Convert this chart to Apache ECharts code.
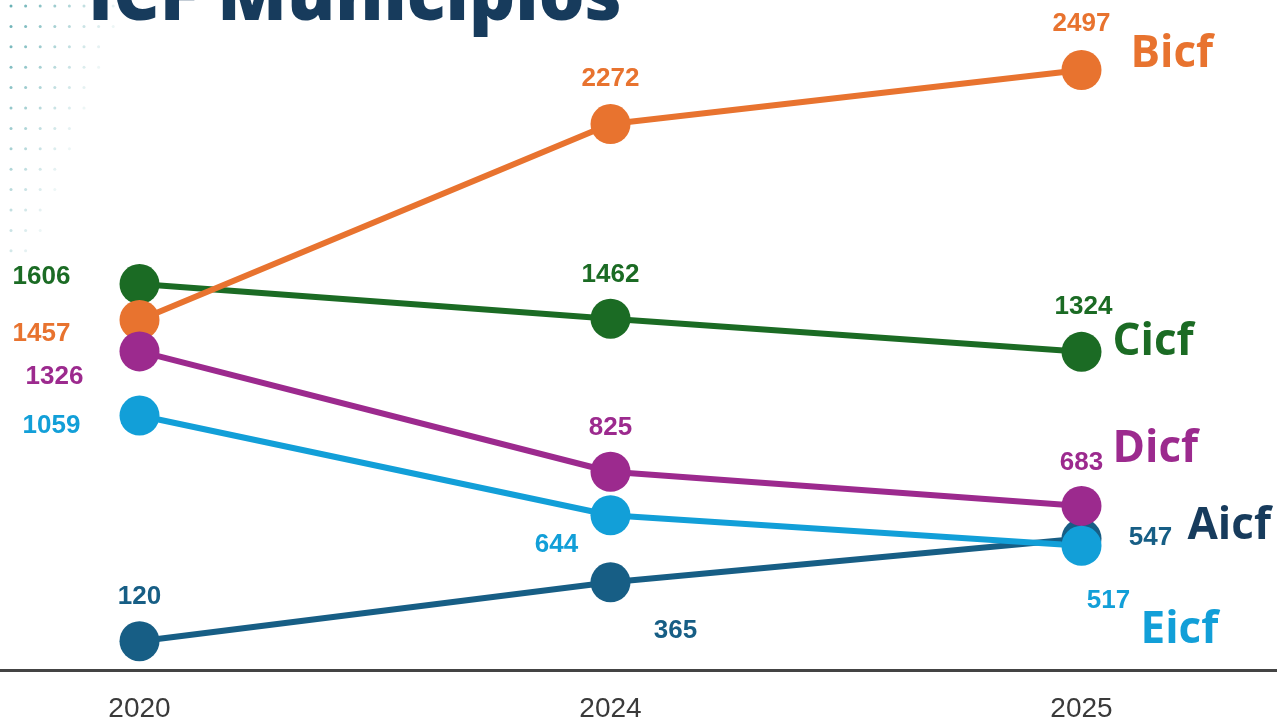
<!DOCTYPE html>
<html>
<head>
<meta charset="utf-8">
<script src="https://cdn.jsdelivr.net/npm/echarts@6/dist/echarts.min.js"></script>
<style>
  html, body { margin: 0; padding: 0; background: #fff; }
  #chart { width: 1277px; height: 721px; }
</style>
</head>
<body>
<div id="chart"></div>
<script>
var years = ['2020', '2024', '2025'];

var aicf = [120, 365, 547];
var bicf = [1457, 2272, 2497];
var cicf = [1606, 1462, 1324];
var dicf = [1326, 825, 683];
var eicf = [1059, 644, 517];

// label offsets (px) from each point centre
var offA = [[0, -44], [65, 49], [69, -1]];
var offB = [[-98, 14], [0, -45], [0, -46]];
var offC = [[-98, -7], [0, -44], [2, -45]];
var offD = [[-85, 25], [0, -44], [0, -43]];
var offE = [[-88, 10], [-54, 30], [27, 55]];

function makeData(values, offsets, color) {
    return values.map(function (v, i) {
        return {
            value: v,
            label: {
                show: true,
                position: 'inside',
                offset: offsets[i],
                color: color
            }
        };
    });
}

function makeSeries(name, values, offsets, color, nameColor, nameOffset) {
    return {
        name: name,
        type: 'line',
        symbol: 'circle',
        symbolSize: 40,
        lineStyle: { width: 6, color: color },
        itemStyle: { color: color },
        label: {
            fontFamily: '"Liberation Sans", Arial, sans-serif',
            fontWeight: 'bold',
            fontSize: 26
        },
        endLabel: {
            show: true,
            formatter: '{a}',
            color: nameColor,
            fontFamily: '"Open Sans", sans-serif',
            fontWeight: 'bold',
            fontSize: 44,
            align: 'left',
            verticalAlign: 'middle',
            distance: 0,
            offset: nameOffset
        },
        emphasis: { disabled: true },
        animation: false,
        data: makeData(values, offsets, color)
    };
}

// decorative dot pattern, top left
var dots = [];
for (var r = 0; r < 13; r++) {
    for (var c = 0; c < 8; c++) {
        var op = 0.85 - c * 0.1 - r * 0.05;
        if (op <= 0.06) continue;
        dots.push({
            type: 'circle',
            shape: { cx: 11 + c * 14.6, cy: 6 + r * 20.4, r: 1.5 },
            style: { fill: '#4fa3a8', opacity: op },
            silent: true
        });
    }
}

var option = {
    backgroundColor: '#ffffff',
    animation: false,
    graphic: dots.concat([{
        type: 'text',
        left: 88,
        top: -37,
        z: 10,
        style: {
            text: 'ICF Municípios',
            fill: '#173b5c',
            font: '800 72px "Open Sans", sans-serif'
        }
    }]),
    grid: {
        left: -96,
        right: -40,
        top: 2,
        bottom: 51,
        outerBoundsMode: 'none',
        containLabel: false
    },
    xAxis: {
        type: 'category',
        data: years,
        boundaryGap: true,
        axisLine: { lineStyle: { color: '#444', width: 3 } },
        axisTick: { show: false },
        axisLabel: {
            color: '#3a3a3a',
            fontFamily: '"Liberation Sans Narrow", "Arial Narrow", sans-serif',
            fontSize: 28,
            margin: 25
        },
        splitLine: { show: false }
    },
    yAxis: {
        type: 'value',
        min: 0,
        max: 2780,
        show: false,
        splitLine: { show: false }
    },
    series: [
        makeSeries('Aicf', aicf, offA, '#175e85', '#173b5c', [106, -12]),
        makeSeries('Cicf', cicf, offC, '#1b6b24', '#1b6b24', [31, -9]),
        makeSeries('Bicf', bicf, offB, '#e8732f', '#e8732f', [49, -16]),
        makeSeries('Dicf', dicf, offD, '#9c2a8e', '#9c2a8e', [31, -56]),
        makeSeries('Eicf', eicf, offE, '#129fd8', '#129fd8', [59, 85])
    ]
};

var chart = echarts.init(document.getElementById('chart'));
chart.setOption(option);
</script>
</body>
</html>
